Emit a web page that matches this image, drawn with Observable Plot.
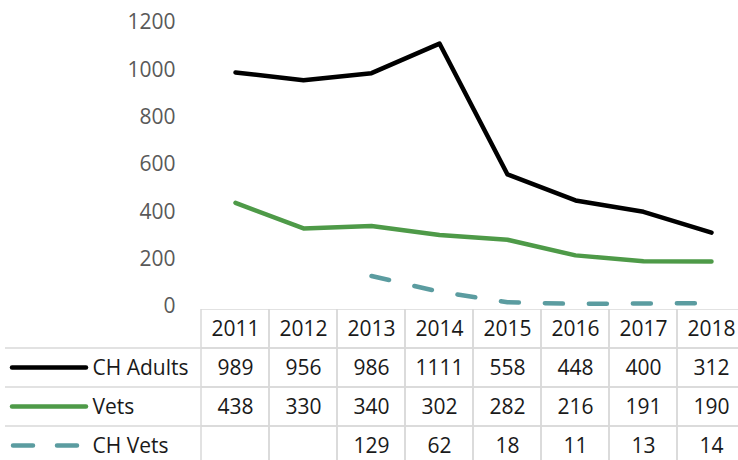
<!DOCTYPE html>
<html>
<head>
<meta charset="utf-8">
<script src="https://cdn.jsdelivr.net/npm/d3@7"></script>
<script src="https://cdn.jsdelivr.net/npm/@observablehq/plot@0.6"></script>
<style>
  html, body { margin: 0; padding: 0; background: #fff; overflow: hidden; }
  #chart svg { display: block; }
  #chart svg.main { position: relative; z-index: 1; background: transparent; }
  #chart svg.tbl { margin-top: -11px; }
</style>
</head>
<body>
<div id="chart"></div>
<script>
// ---- data ----
const years = ["2011", "2012", "2013", "2014", "2015", "2016", "2017", "2018"];
const chAdults = [989, 956, 986, 1111, 558, 448, 400, 312];
const vets = [438, 330, 340, 302, 282, 216, 191, 190];
const chVets = [null, null, 129, 62, 18, 11, 13, 14];
const seriesNames = ["CH Adults", "Vets", "CH Vets"];
const yTicks = [0, 200, 400, 600, 800, 1000, 1200];

// ---- styles ----
const colors = {"CH Adults": "#000000", "Vets": "#4e9a48", "CH Vets": "#5b9ca0"};
const dashes = {"CH Adults": null, "Vets": null, "CH Vets": "18,26"};
const FONT = "Open Sans";
const FS = 21;
const GRID = "#d9d9d9";

const seriesValues = {"CH Adults": chAdults, "Vets": vets, "CH Vets": chVets};
const long = seriesNames.flatMap(name =>
  years.map((year, i) => ({series: name, year, value: seriesValues[name][i]}))
);

const xShared = {type: "band", domain: years, padding: 0, axis: null};

const chart = Plot.plot({
  className: "main",
  width: 738,
  height: 320,
  marginLeft: 200,
  marginRight: -8,
  marginTop: 22,
  marginBottom: 14,
  style: {fontFamily: FONT, fontSize: FS + "px", color: "#595959", background: "transparent"},
  x: xShared,
  y: {domain: [0, 1200], axis: null},
  marks: [
    Plot.axisY({ticks: yTicks, tickFormat: d => String(d), tickSize: 0, tickPadding: 25, fontSize: FS, label: null, fill: "#595959"}),
    ...seriesNames.map(name =>
      Plot.line(long.filter(d => d.series === name && d.value != null), {
        x: "year",
        y: "value",
        stroke: colors[name],
        strokeWidth: 4.5,
        strokeDasharray: dashes[name] || undefined,
        strokeLinecap: "round",
        strokeLinejoin: "round"
      })
    )
  ]
});
chart.classList.add("main");

const rows = ["year", ...seriesNames];
const cells = rows.flatMap(r => years.map(year => ({row: r, year})));
const tableValues = long.filter(d => d.value != null);

function legendKeys(index, scales, values, dims) {
  const y = scales.y;
  let bw = typeof y.bandwidth === "function" ? y.bandwidth() : y.bandwidth;
  if (!(bw > 0) && scales.scales && scales.scales.y) bw = scales.scales.y.bandwidth;
  const g = d3.create("svg:g");
  seriesNames.forEach(name => {
    const top = y(name);
    const cy = top + bw / 2;
    g.append("line")
      .attr("x1", 5).attr("x2", dims.marginLeft)
      .attr("y1", top).attr("y2", top)
      .attr("stroke", GRID).attr("stroke-width", 1.5);
    const sw = g.append("line")
      .attr("x1", name === "CH Vets" ? 13 : 12).attr("x2", name === "CH Vets" ? 80 : 86)
      .attr("y1", cy).attr("y2", cy)
      .attr("stroke", colors[name]).attr("stroke-width", 4.5)
      .attr("stroke-linecap", "round");
    if (dashes[name]) sw.attr("stroke-dasharray", "20,24");
  });
  return g.node();
}

const table = Plot.plot({
  width: 738,
  height: 151,
  marginLeft: 200,
  marginRight: -8,
  marginTop: 0,
  marginBottom: -5,
  style: {fontFamily: FONT, fontSize: FS + "px", color: "#1a1a1a", background: "#fff"},
  x: xShared,
  y: {type: "band", domain: rows, padding: 0, axis: null},
  marks: [
    Plot.cell(cells, {x: "year", y: "row", fill: "none", stroke: GRID, strokeWidth: 1.5}),
    Plot.text(years, {x: d => d, y: () => "year", text: d => d, fontSize: FS, fill: "#1a1a1a"}),
    Plot.text(tableValues, {x: "year", y: "series", text: d => String(d.value), fontSize: FS, fill: "#1a1a1a"}),
    Plot.text(seriesNames, {y: d => d, text: d => d, frameAnchor: "left", textAnchor: "start", dx: -108, fontSize: FS, fill: "#1a1a1a"}),
    legendKeys
  ]
});
table.classList.add("tbl");

const root = document.getElementById("chart");
root.appendChild(chart);
root.appendChild(table);
</script>
</body>
</html>
